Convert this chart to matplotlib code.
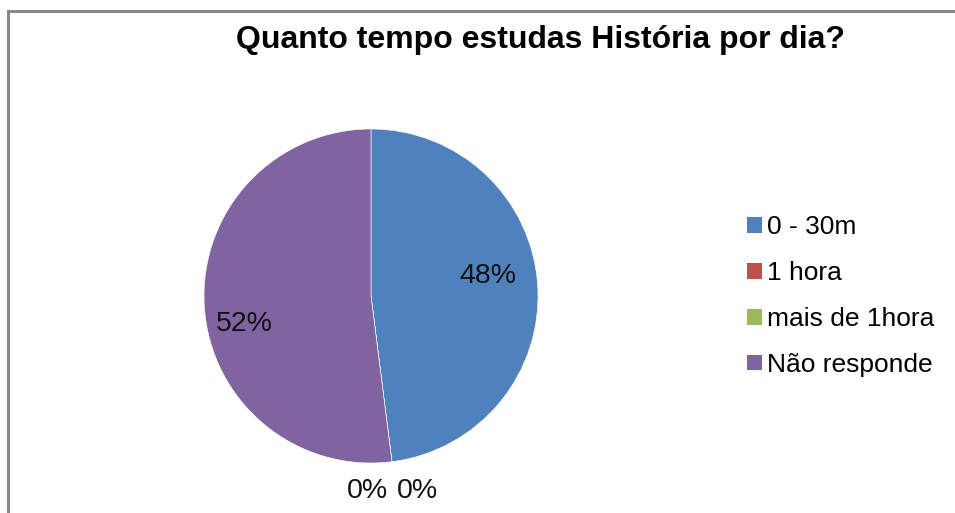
import matplotlib
matplotlib.use('Agg')
import matplotlib.pyplot as plt
from matplotlib.lines import Line2D
from matplotlib.patches import Patch

plt.rcParams['font.family'] = ['Liberation Sans', 'DejaVu Sans']

# data
categories = ['0 - 30m', '1 hora', 'mais de 1hora', 'Não responde']
values = [48, 0, 0, 52]
colors = ['#4F81BD', '#C0504D', '#9BBB59', '#8064A2']

# label placement (pie data units)
label_pos = [(0.70, 0.12), (-0.02, -1.17), (0.28, -1.17), (-0.76, -0.17)]

fig = plt.figure(figsize=(9.55, 5.13), dpi=100)
fig.patch.set_facecolor('white')

# chart border (top + left only visible)
fig.add_artist(Line2D([8/955, 8/955], [0, 1 - 11/513], color='#888888', lw=2.2,
                      transform=fig.transFigure))
fig.add_artist(Line2D([8/955, 1], [1 - 11/513, 1 - 11/513], color='#888888', lw=2.2,
                      transform=fig.transFigure))

ax = fig.add_axes([204/955, 1 - 463/513, 334/955, 334/513])
wedges, _ = ax.pie(values, colors=colors, startangle=90, counterclock=False,
                   radius=1.0, wedgeprops=dict(edgecolor='white', linewidth=0.4))
ax.set_xlim(-1, 1); ax.set_ylim(-1, 1)
ax.set_aspect('equal')
ax.axis('off')

total = sum(values)
for v, (x, y) in zip(values, label_pos):
    ax.text(x, y, f'{v / total * 100:.0f}%', ha='center', va='center',
            fontsize=20.5, color='#111111', clip_on=False)

fig.text(540/955, 1 - 40/513, 'Quanto tempo estudas História por dia?',
         ha='center', va='center', fontsize=23, fontweight='bold', color='black')

handles = [Patch(facecolor=c, edgecolor='none') for c in colors]
fig.legend(handles, categories, loc='center left', bbox_to_anchor=(734/955, 1 - 296/513),
           frameon=False, fontsize=19, handlelength=0.55, handleheight=0.55,
           handletextpad=0.2, labelspacing=0.83, borderpad=0)

fig.savefig('out.png', dpi=100)
